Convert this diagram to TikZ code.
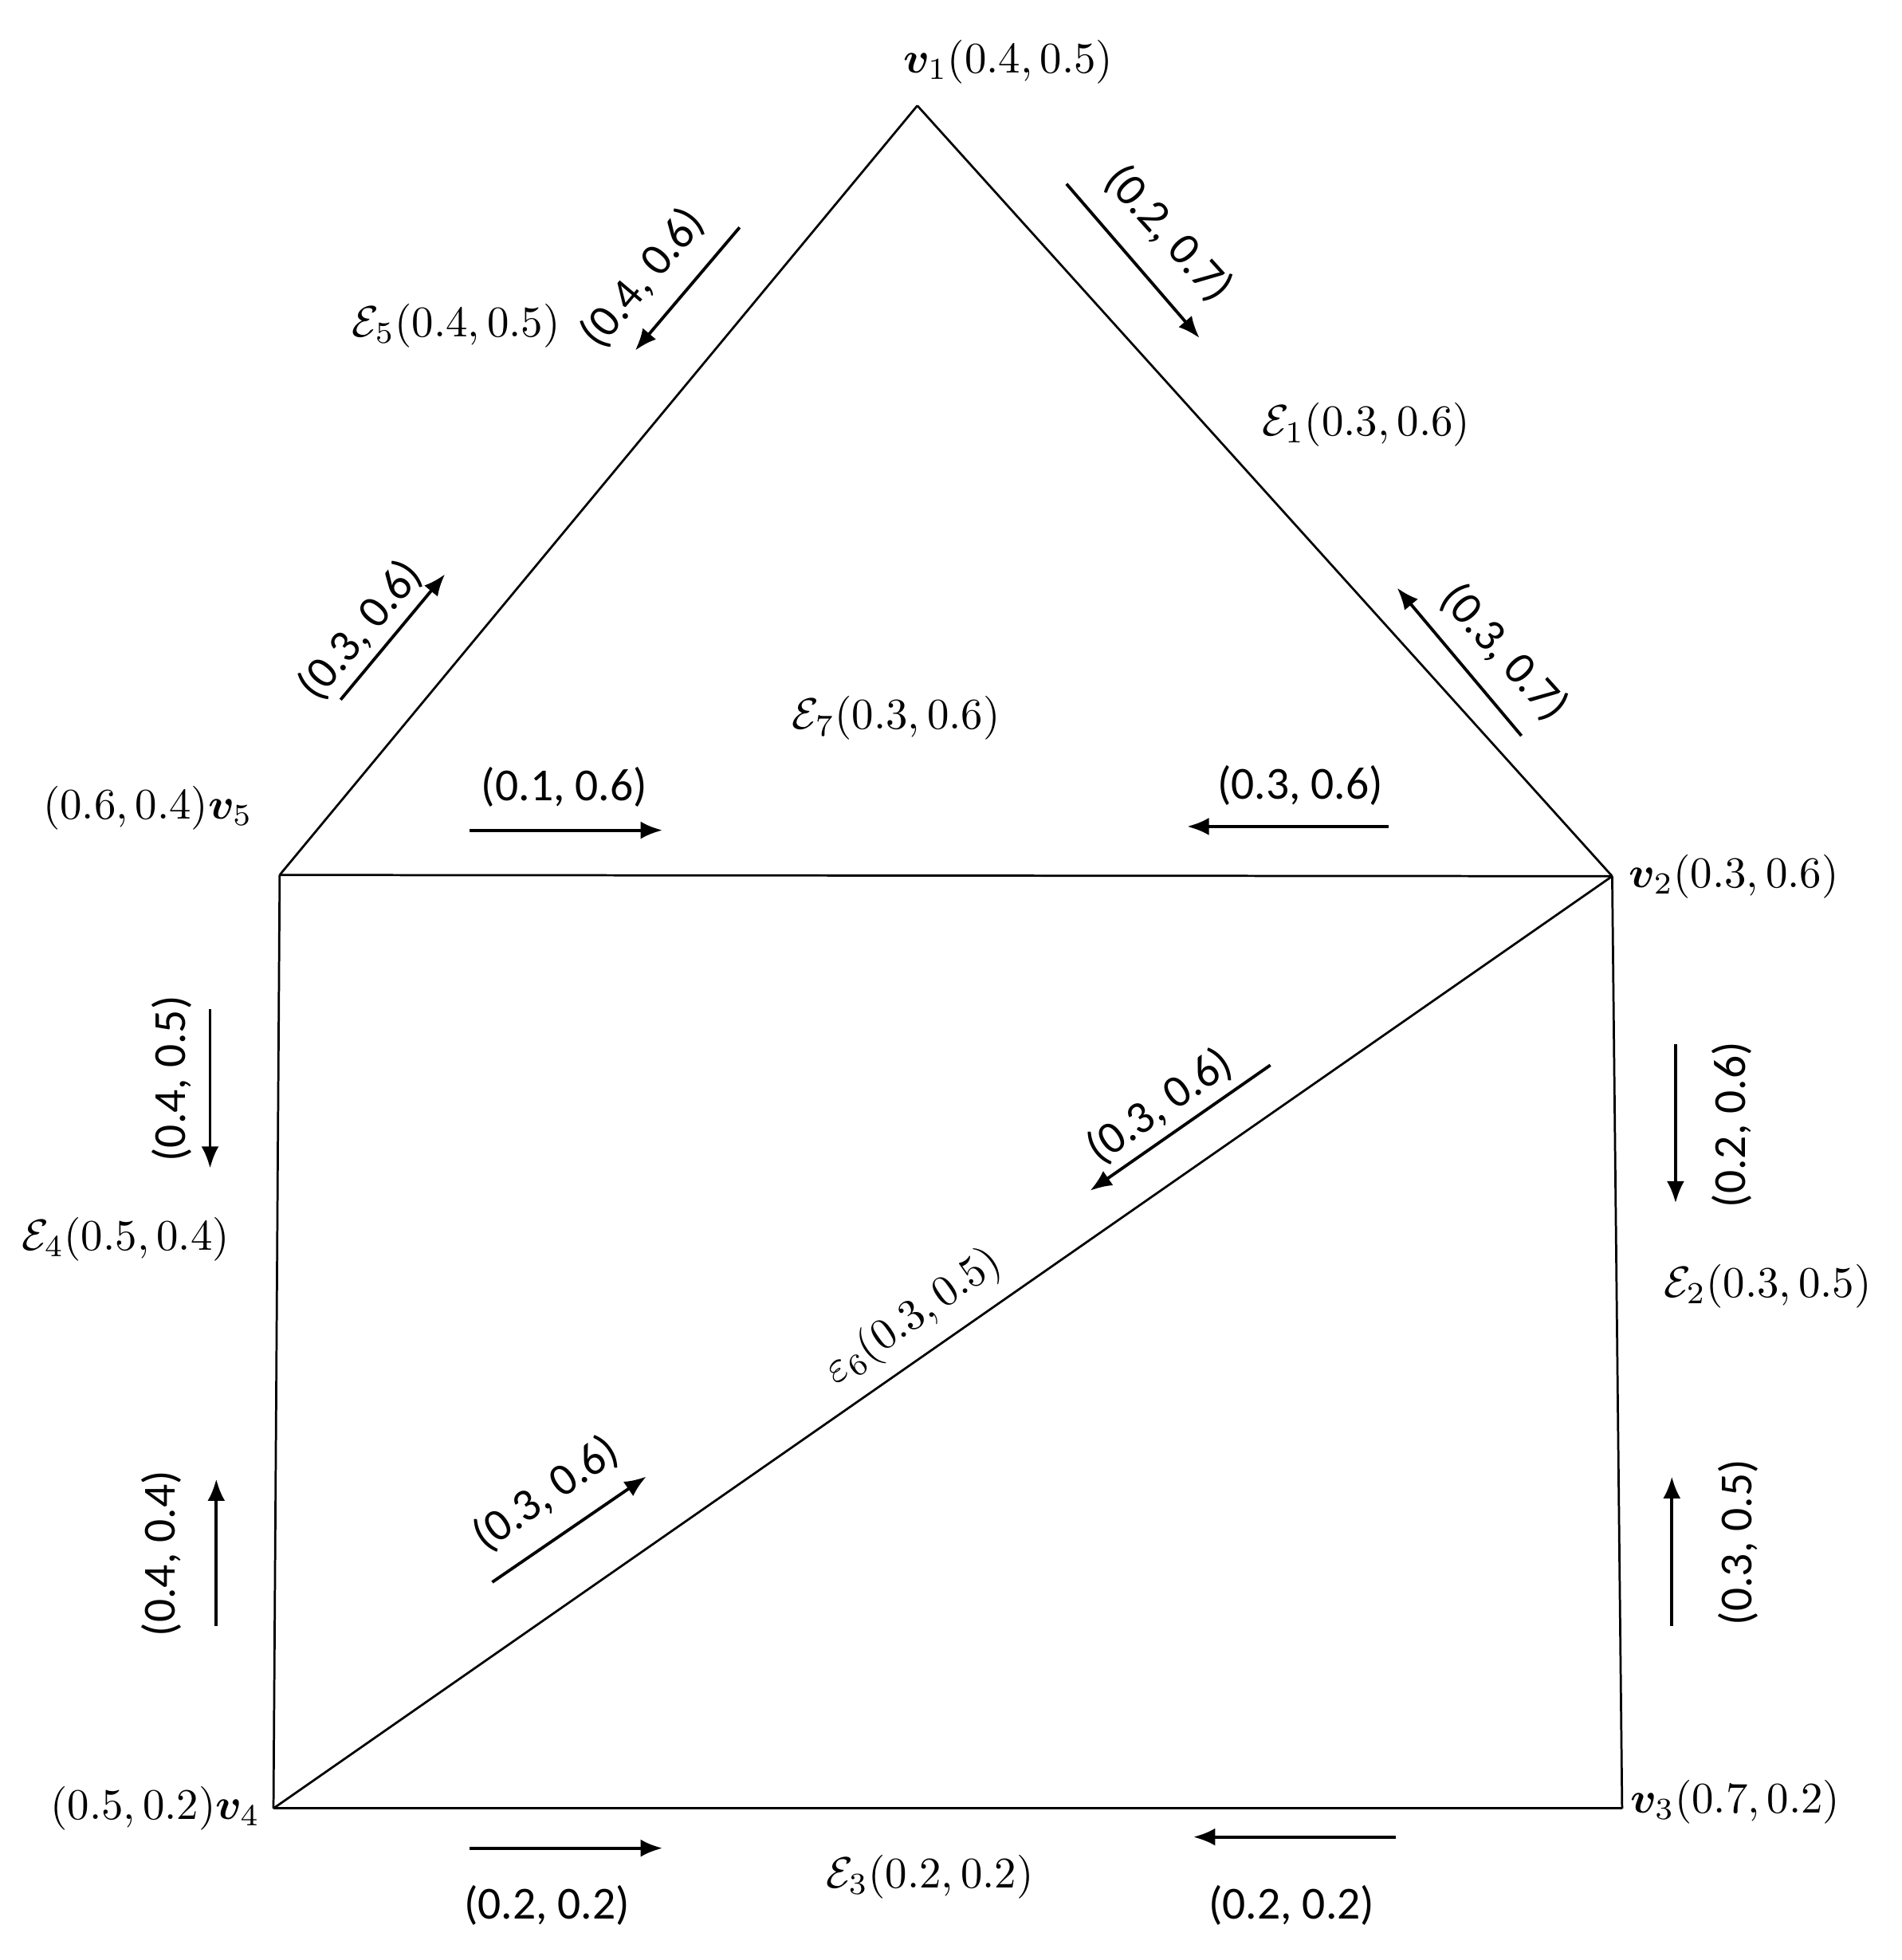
\documentclass[tikz,border=0pt]{standalone}
\usepackage{amsmath}
\usepackage{bm}
\usepackage{fontspec}
\setmainfont{Carlito}
\usetikzlibrary{arrows.meta}
\tikzset{
  edge/.style={line width=0.5pt},
  flow/.style={line width=0.7pt,-{Latex[length=5pt,width=4pt]}},
  lab/.style={inner sep=1pt,font=\fontsize{10.5}{12}\selectfont},
  mlab/.style={inner sep=1pt,font=\fontsize{10}{12}\selectfont},
}
\newcommand{\Ep}{\mathcal{E}}
\newcommand{\vv}{\bm{v}}
\begin{document}
\begin{tikzpicture}[x=0.01cm,y=-0.01cm]
\useasboundingbox (0,0) rectangle (1530,1577);
% vertices
\coordinate (v1) at (738,85);
\coordinate (v2) at (1297,705);
\coordinate (v3) at (1305,1455);
\coordinate (v4) at (220,1455);
\coordinate (v5) at (225,704);
% edges
\draw[edge] (v1) -- (v2);
\draw[edge] (v1) -- (v5);
\draw[edge] (v5) -- (v2);
\draw[edge] (v5) -- (v4);
\draw[edge] (v2) -- (v3);
\draw[edge] (v4) -- (v3);
\draw[edge] (v4) -- (v2);
% vertex labels
\node[mlab] (lv1) at (811,50) {$\vv_1(0.4, 0.5)$};
\node[mlab] (lv2) at (1395,705) {$\vv_2(0.3, 0.6)$};
\node[mlab] (lv3) at (1396,1450) {$\vv_3(0.7, 0.2)$};
\node[mlab] (lv4) at (125,1455) {$(0.5, 0.2)\vv_4$};
\node[mlab] (lv5) at (119,650) {$(0.6, 0.4)\vv_5$};
% edge labels
\node[mlab] (le1) at (1099,342) {$\Ep_1(0.3, 0.6)$};
\node[mlab] (le2) at (1422,1035) {$\Ep_2(0.3, 0.5)$};
\node[mlab] (le3) at (748,1510) {$\Ep_3(0.2, 0.2)$};
\node[mlab] (le4) at (101,997) {$\Ep_4(0.5, 0.4)$};
\node[mlab] (le5) at (367,262) {$\Ep_5(0.4, 0.5)$};
\node[mlab] (le7) at (721,578) {$\Ep_7(0.3, 0.6)$};
\node[mlab,rotate=35] (le6) at (735,1060) {$\varepsilon_6(0.3,0.5)$};
% flow arrows and labels
\draw[flow] (858,148) -- (965,272);
\node[lab,rotate=-48] (f1) at (940,188) {(0.2, 0.7)};
\draw[flow] (595,183) -- (511,282);
\node[lab,rotate=50] (f2) at (517,224) {(0.4, 0.6)};
\draw[flow] (274,563) -- (358,462);
\node[lab,rotate=50] (f3) at (290,507) {(0.3, 0.6)};
\draw[flow] (1224,592) -- (1124,473);
\node[lab,rotate=-48] (f4) at (1210,525) {(0.3, 0.7)};
\draw[flow] (378,668) -- (533,668);
\node[lab] (f5) at (454,633) {(0.1, 0.6)};
\draw[flow] (1117,665) -- (955,665);
\node[lab] (f6) at (1046,632) {(0.3, 0.6)};
\draw[flow] (169,812) -- (169,940);
\node[lab,rotate=90] (f7) at (138,868) {(0.4, 0.5)};
\draw[flow] (174,1308) -- (174,1190);
\node[lab,rotate=90] (f8) at (130,1250) {(0.4, 0.4)};
\draw[flow] (1348,840) -- (1348,968);
\node[lab,rotate=90] (f9) at (1393,905) {(0.2, 0.6)};
\draw[flow] (1345,1308) -- (1345,1188);
\node[lab,rotate=90] (f10) at (1398,1241) {(0.3, 0.5)};
\draw[flow] (1022,857) -- (877,958);
\node[lab,rotate=35] (f11) at (933,890) {(0.3, 0.6)};
\draw[flow] (396,1273) -- (520,1188);
\node[lab,rotate=35] (f12) at (439,1202) {(0.3, 0.6)};
\draw[flow] (378,1487) -- (533,1487);
\node[lab] (f13) at (440,1533) {(0.2, 0.2)};
\draw[flow] (1123,1478) -- (960,1478);
\node[lab] (f14) at (1039,1533) {(0.2, 0.2)};
\end{tikzpicture}
\end{document}
